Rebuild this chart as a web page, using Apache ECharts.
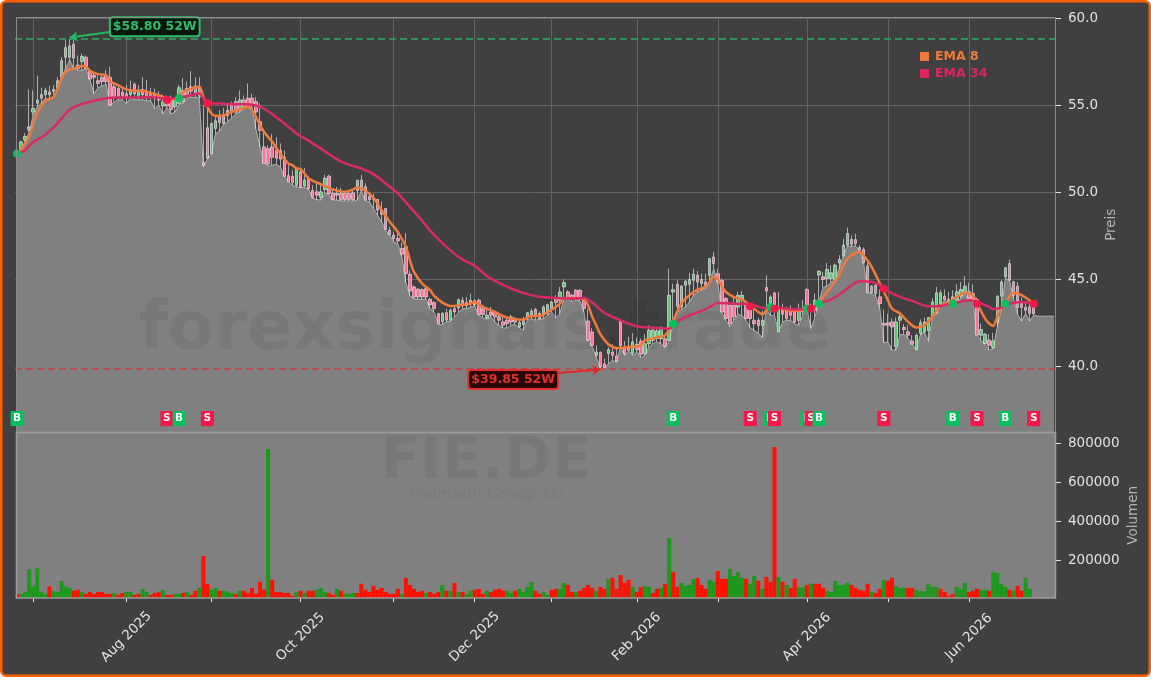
<!DOCTYPE html>
<html>
<head>
<meta charset="utf-8">
<title>FIE.DE</title>
<style>
html, body { margin: 0; padding: 0; background: #fff; }
#chart { width: 1151px; height: 677px; }
</style>
<script src="https://cdn.jsdelivr.net/npm/echarts@6/dist/echarts.min.js"></script>
</head>
<body>
<div id="chart"></div>
<script>
// daily bars
var opens = [52.2,52.45,53.0,53.6,54.6,55.1,55.4,55.6,55.75,55.8,56.0,56.6,57.75,57.75,58.5,57.3,57.5,57.75,56.95,56.7,56.4,56.6,56.7,56.6,56.05,55.95,55.75,55.65,55.6,56.2,55.4,55.9,55.75,55.65,55.55,55.55,54.95,55.4,55.3,54.9,55.1,55.85,55.95,56.05,56.1,55.5,51.7,53.7,52.2,53.65,54.4,54.4,54.7,55.0,55.2,54.7,55.3,55.4,55.4,55.2,54.05,52.6,52.5,52.6,52.4,52.4,52.0,50.95,50.9,50.4,
  51.17,50.35,50.8,50.1,50.02,49.7,50.15,50.92,49.93,49.93,49.93,49.93,49.93,49.96,50.1,50.69,50.31,49.77,49.7,49.58,49.0,49.06,47.82,47.53,47.34,46.76,46.86,45.29,44.56,44.43,44.4,44.46,43.85,43.66,43.03,42.55,43.08,42.65,43.31,43.35,43.79,43.66,43.79,43.77,43.79,43.31,42.78,43.12,43.08,42.84,42.55,42.65,42.84,42.74,42.26,42.4,42.78,42.93,43.27,43.03,42.93,43.03,43.31,43.93,43.79,44.56,44.27,44.08,44.37,44.37,43.83,42.6,41.97,40.63,40.8,40.15,40.73,40.82,40.6,42.64,
  41.07,41.15,40.77,41.26,41.44,40.73,41.3,41.49,41.6,41.59,41.59,41.49,44.27,44.71,43.41,44.66,44.71,44.94,45.23,44.98,44.85,45.23,46.28,45.32,44.94,43.89,43.5,43.6,43.4,43.83,43.64,43.31,42.64,42.64,42.35,44.52,43.6,44.21,41.97,43.31,43.31,43.31,43.1,42.64,43.3,44.41,43.41,43.22,45.24,45.14,45.04,45.04,44.99,45.94,46.33,46.96,47.28,47.28,46.82,46.71,45.75,44.22,44.66,43.99,42.46,42.5,42.55,41.15,42.65,42.23,41.98,41.46,40.96,41.88,41.98,42.04,42.84,43.03,43.6,44.03,43.84,43.76,43.8,44.03,44.18,44.28,44.18,43.84,41.79,41.31,41.5,41.08,42.55,44.03,45.14,45.9,44.85,44.6,43.61,43.38,43.41,43.41];
var closes = [52.4,52.9,53.2,53.75,54.8,55.3,55.6,55.85,55.6,55.9,56.4,57.55,58.3,58.4,57.7,57.1,57.8,57.1,56.5,56.6,56.25,56.35,56.35,55.0,55.5,55.5,55.5,55.4,55.85,55.65,55.85,55.6,55.4,55.45,55.4,55.3,55.2,54.95,54.75,55.3,56.0,55.2,55.55,55.8,55.7,56.0,51.55,51.95,53.95,54.1,54.0,53.95,54.4,54.6,54.6,55.3,54.9,54.9,55.0,54.6,53.55,51.65,51.65,52.0,51.95,51.9,50.9,50.6,50.55,51.35,
  50.27,50.7,50.2,49.7,49.83,50.02,50.8,49.93,49.58,49.83,49.58,49.58,49.58,49.58,50.69,50.1,49.54,49.58,49.58,48.97,48.74,47.86,47.57,47.34,47.2,46.44,45.33,44.33,43.98,43.98,43.98,43.98,43.54,43.31,42.45,43.03,42.65,43.22,43.12,43.83,43.47,43.47,43.6,43.54,42.97,42.97,42.93,42.93,42.84,42.65,42.36,42.45,42.55,42.55,42.51,42.65,43.08,43.16,42.89,42.74,43.41,43.54,43.7,43.66,44.27,44.81,43.93,43.89,43.89,43.93,43.32,41.49,41.2,40.82,39.96,39.92,40.96,40.63,40.3,41.2,
  40.73,40.92,41.4,40.96,40.69,41.3,42.07,42.07,42.03,42.22,41.15,44.08,44.4,43.45,44.6,44.89,44.98,45.29,44.84,44.75,44.65,46.19,45.9,44.85,43.12,42.74,42.45,42.84,44.08,44.08,42.74,42.74,42.45,42.35,42.64,44.33,43.98,43.12,43.31,42.99,42.74,42.93,42.55,43.31,43.13,43.41,43.22,43.8,45.46,44.99,45.56,45.37,45.81,46.13,46.96,47.63,47.02,47.05,46.67,45.94,44.22,44.6,44.18,43.6,42.36,42.36,42.26,42.55,42.84,42.11,41.79,41.27,41.79,42.5,42.55,42.8,43.7,44.22,44.22,43.84,43.64,43.99,44.28,44.41,44.6,43.9,43.84,41.79,42.11,41.84,41.21,41.46,44.03,44.85,45.67,44.95,44.08,43.38,43.38,43.22,43.03,43.03];
var highs = [52.5,52.95,53.4,55.9,55.85,56.7,56.0,56.0,56.1,56.15,56.6,57.75,58.75,58.8,58.75,57.85,57.95,57.85,57.1,56.9,56.7,56.65,57.0,57.2,56.25,56.05,56.0,56.15,56.4,56.3,56.15,56.6,56.45,56.0,55.95,55.8,55.6,55.55,55.55,55.45,56.15,56.55,56.35,56.95,56.6,56.6,55.0,55.0,54.0,54.4,54.7,54.85,55.0,55.2,55.45,55.85,55.55,56.25,55.65,55.45,55.1,53.65,52.7,53.35,53.15,52.8,52.4,51.55,51.25,51.45,
  51.36,51.4,50.9,50.4,50.5,50.5,51.0,51.0,50.2,50.3,50.25,50.0,50.1,50.1,50.69,51.0,50.5,50.0,49.9,49.6,49.45,49.06,48.0,47.7,47.6,47.1,47.66,45.5,44.65,44.5,44.46,44.55,43.93,43.74,43.08,43.12,43.31,43.31,43.47,43.89,43.98,43.98,44.17,43.85,43.89,43.54,43.41,43.41,43.22,42.97,42.84,42.84,42.97,42.84,42.7,42.84,43.12,43.31,43.35,43.16,43.5,43.6,43.74,44.08,44.56,44.99,44.37,44.17,44.43,44.43,43.9,43.3,42.2,41.2,40.85,40.45,41.1,41.26,41.1,42.68,
  41.45,41.7,41.9,41.65,41.6,41.84,42.35,42.2,42.2,42.3,41.68,45.61,44.75,44.94,44.66,44.98,45.36,45.61,45.48,45.32,45.32,46.19,46.57,45.61,45.04,43.98,43.7,44.02,44.27,44.33,43.7,43.64,43.5,42.8,43.2,45.23,44.08,44.27,44.27,43.6,43.41,43.5,43.31,43.6,43.8,44.47,43.6,44.18,45.52,45.43,45.94,45.81,45.9,46.38,47.34,47.97,47.53,47.63,46.96,46.82,45.94,44.66,44.72,44.41,43.26,43.03,42.74,42.8,43.03,42.42,42.36,41.79,41.88,42.69,42.8,42.84,43.9,44.56,44.37,44.41,44.28,44.37,44.72,44.85,45.18,44.8,44.72,43.95,42.46,41.92,41.84,41.92,44.08,44.95,45.67,46.13,44.91,44.85,43.95,43.76,43.64,43.51];
// lows also carry the grey area; it stays flat past the last bar
var lows = [52.2,52.4,52.9,53.45,54.4,54.9,55.1,55.4,55.3,55.4,55.9,56.6,57.1,57.6,57.1,57.0,57.0,57.1,56.45,55.65,56.0,56.1,56.2,54.95,55.2,55.3,55.3,55.1,55.4,55.3,55.3,55.3,55.25,55.25,54.8,55.0,54.5,54.85,54.5,54.6,55.05,55.1,55.45,55.45,55.45,55.4,51.45,51.9,52.2,53.35,53.5,53.9,54.05,54.25,54.5,54.6,54.8,54.9,54.9,53.6,52.6,51.65,51.55,51.55,51.6,51.45,50.9,50.6,50.4,50.3,
  50.27,50.27,50.15,49.64,49.58,49.54,49.93,49.89,49.54,49.54,49.5,49.5,49.5,49.5,49.54,50.08,49.5,49.45,49.06,48.68,48.3,47.82,47.53,47.15,47.05,46.3,44.79,44.05,43.89,43.85,43.85,43.85,43.31,43.12,42.4,42.4,42.55,42.6,42.83,43.08,43.31,43.31,43.41,43.47,42.93,42.78,42.7,42.83,42.55,42.36,42.2,42.2,42.36,42.4,42.2,42.07,42.65,42.74,42.65,42.7,42.74,42.93,43.12,42.78,43.03,43.85,43.85,43.7,43.8,43.75,43.1,41.45,41.15,40.54,39.86,39.86,40.15,40.34,40.25,41.11,
  40.63,40.88,40.63,40.82,40.5,40.63,41.11,41.3,41.4,41.3,41.07,41.45,42.45,43.1,43.26,43.4,43.7,44.08,44.27,44.37,44.46,44.85,45.6,44.8,43.1,42.64,42.26,42.64,43.0,42.9,42.64,42.22,42.07,41.91,41.65,43.31,42.93,42.93,41.97,42.55,42.64,42.64,42.45,42.35,42.94,43.32,42.17,42.84,43.7,44.53,44.6,44.85,44.95,45.62,46.33,46.9,46.9,46.9,46.67,45.94,44.22,44.18,44.03,43.32,41.35,41.4,40.93,40.93,41.8,41.84,41.6,41.27,40.93,41.8,41.98,41.44,42.8,43.03,43.5,43.8,43.6,43.7,43.64,43.9,44.18,43.8,43.76,41.79,41.5,41.27,40.93,41.02,42.27,43.22,45.04,44.95,43.9,43.0,42.59,43.03,42.59,42.94,
  42.88,42.88,42.88,42.88,42.88];
var volumes = [28000,28000,38000,155000,66000,160000,38000,28000,66000,42000,38000,95000,66000,59000,44000,49000,38000,28000,38000,28000,38000,38000,28000,28000,33000,23000,33000,38000,38000,23000,28000,54000,38000,23000,33000,38000,49000,23000,23000,28000,28000,33000,38000,23000,44000,59000,223000,80000,49000,59000,44000,44000,40000,33000,28000,44000,44000,33000,59000,28000,90000,49000,771000,100000,38000,38000,33000,33000,18000,38000,44000,33000,44000,44000,49000,59000,38000,33000,23000,54000,44000,28000,28000,33000,33000,80000,49000,38000,69000,49000,59000,38000,28000,28000,54000,
  28000,110000,74000,54000,38000,44000,33000,38000,28000,38000,74000,44000,44000,85000,38000,38000,28000,44000,49000,54000,28000,44000,38000,49000,54000,44000,44000,33000,44000,54000,38000,64000,90000,44000,28000,38000,23000,49000,54000,54000,85000,74000,38000,38000,44000,59000,74000,59000,44000,64000,54000,105000,110000,54000,125000,85000,100000,64000,38000,64000,69000,64000,33000,54000,59000,80000,315000,141000,64000,85000,69000,74000,105000,110000,74000,54000,100000,90000,146000,105000,105000,156000,120000,141000,110000,105000,80000,120000,95000,54000,115000,90000,782000,115000,
  90000,74000,59000,105000,62000,62000,74000,80000,80000,80000,59000,42000,38000,95000,74000,74000,85000,74000,59000,49000,44000,80000,38000,33000,54000,100000,95000,110000,69000,59000,59000,59000,59000,49000,42000,42000,80000,64000,64000,54000,38000,18000,28000,64000,54000,85000,38000,44000,54000,49000,49000,44000,141000,136000,80000,64000,49000,44000,69000,44000,110000,54000,12000];
// g or r per bar, ten to a group
var volumeSides = ('rgggggggrg ggggrrgrrr rrrrgrrggr rggrrrgrrg grgrrgrrgg rgggrgrrrr rrgrrrrrrg rgrrgggrrg rgggrrrrrr rrrrrgrrrr ' +
    'rgrrrgrgrg rggrrrgrrr rggrggggrr ggrrggrrgr rrrgrrgrrr rrgrrggrrg rgrrggggrr rggrrrgggg rggrgrrrgr grrggrgrrr ' +
    'ggggggrrrr rgrrgrrggg rrggggggrr rrgggrrrgg rggggrgrrg gr').replace(/ /g, '').split('');

// curve vertices as [bar index, price]
var ema8 = [[0,52.25],[1,52.45],[3,53.2],[4,53.94],[5,54.55],[6,54.94],[7,55.25],[9,55.47],[10,55.95],[11,56.53],[12,56.91],[13,57.06],[14,57.1],[16,57.24],[17,57.2],[18,56.97],[20,56.78],[22,56.72],[23,56.37],[25,56.14],[27,55.9],[29,55.82],[31,55.82],[33,55.7],[35,55.57],[37,55.38],[39,55.32],[40,55.57],[41,55.76],[43,55.95],[45,56.05],[46,55.47],[47,54.9],[48,54.52],[49,54.38],[51,54.42],[53,54.61],[55,54.75],[57,54.9],[58,54.71],[59,54.32],[60,53.85],[61,53.46],[63,52.89],[65,52.21],[67,51.64],[68,51.55],[69,51.36],[70,51.33],[72,50.79],[75,50.46],[78,50.16],[81,50.02],[83,50.16],[84,50.27],[86,50.08],[88,49.68],[90,48.97],[92,48.3],[94,47.72],[96,46.86],[97,46.09],[98,45.42],[100,44.75],[102,44.37],[103,44.04],[105,43.66],[107,43.47],[109,43.5],[112,43.6],[113,43.7],[115,43.41],[118,43.12],[120,42.89],[122,42.74],[125,42.68],[127,42.89],[129,42.89],[131,43.12],[133,43.41],[134,43.6],[135,43.89],[136,43.93],[140,43.85],[142,42.85],[143,42.35],[144,41.85],[145,41.53],[146,41.26],[148,41.05],[151,41.11],[153,41.15],[154,41.2],[155,41.49],[157,41.59],[159,41.72],[160,41.78],[161,42.16],[162,42.64],[164,43.6],[166,44.08],[168,44.4],[170,44.56],[171,44.85],[172,45.17],[173,44.98],[175,44.27],[177,43.98],[179,43.83],[181,43.5],[183,43.12],[184,42.99],[185,43.22],[186,43.41],[188,43.35],[192,43.18],[195,43.27],[197,43.45],[198,43.7],[200,44.28],[202,44.91],[203,45.23],[204,45.81],[205,46.19],[207,46.52],[208,46.58],[209,46.38],[211,45.71],[213,44.76],[214,44.28],[215,43.8],[216,43.32],[218,43.03],[220,42.55],[222,42.23],[224,42.36],[226,42.84],[228,43.51],[230,43.66],[232,43.99],[234,44.22],[236,44.09],[237,43.61],[239,42.74],[240,42.46],[241,42.32],[242,42.84],[243,43.32],[244,43.61],[246,44.22],[248,44.09],[251,43.61]];
var ema34 = [[0,52.22],[2,52.41],[4,52.89],[6,53.14],[9,53.71],[11,54.23],[13,54.75],[15,54.98],[18,55.19],[22,55.4],[25,55.44],[30,55.44],[33,55.47],[37,55.36],[40,55.42],[43,55.57],[45,55.67],[47,55.09],[50,55.09],[54,55.05],[57,55.05],[60,54.9],[62,54.65],[65,54.13],[67,53.75],[69,53.37],[72,52.95],[75,52.51],[78,52.03],[81,51.65],[85,51.36],[88,51.04],[91,50.5],[94,49.93],[97,49.16],[100,48.36],[103,47.53],[106,46.86],[110,46.13],[113,45.77],[116,45.19],[119,44.79],[122,44.47],[125,44.22],[129,43.99],[133,43.93],[137,43.9],[140,43.92],[142,43.66],[145,43.08],[149,42.64],[153,42.3],[157,42.22],[161,42.16],[162,42.45],[165,42.83],[169,43.18],[171,43.41],[173,43.64],[177,43.6],[181,43.56],[184,43.37],[187,43.37],[192,43.27],[196,43.32],[198,43.61],[201,43.84],[204,44.28],[206,44.66],[208,44.89],[211,44.85],[213,44.66],[215,44.32],[218,43.99],[221,43.76],[225,43.45],[228,43.47],[231,43.61],[235,43.8],[237,43.7],[240,43.41],[241,43.28],[243,43.38],[245,43.61],[248,43.7],[251,43.61]];

var signalIndex = [0,37,40,47,162,181,186,187,195,196,198,214,231,237,244,251];
var signalType = ['B','S','B','S','B','S','B','S','B','S','B','S','B','S','B','S'];
var signalPrice = [52.2,55.3,55.4,55.1,42.45,43.45,43.4,43.3,43.3,43.3,43.6,44.45,43.6,43.6,43.6,43.6];
var signalBoxPrice = 37;

var priceTicks = [40,45,50,55,60];
var volumeTicks = [200000,400000,600000,800000];
var tickIndexes = [4,27,48,70,93,113,132,153,173,195,215,235];
var tickLabels = ['','Aug 2025','','Oct 2025','','Dec 2025','','Feb 2026','','Apr 2026','','Jun 2026'];
var barCount = lows.length;

var high52 = 58.80, low52 = 39.85;

var BG = '#404040', ORANGE = '#f07a3c', PINK = '#d92a66';
var GREEN = '#08c05c', RED = '#f5174a';
var FONT = 'DejaVu Sans';

var categories = [];
for (var c = 0; c < barCount; c++) {
    var at = tickIndexes.indexOf(c);
    categories.push(at >= 0 ? tickLabels[at] : '');
}
function isTick(index) {
    return tickIndexes.indexOf(index) >= 0;
}

var candles = [];
for (var k = 0; k < opens.length; k++) {
    candles.push([opens[k], closes[k], lows[k], highs[k]]);
}
var volumeBars = volumes.map(function (v, i) {
    return { value: v, itemStyle: { color: volumeSides[i] === 'g' ? '#1e971e' : '#ff1000' } };
});
var dots = signalIndex.map(function (idx, i) {
    return { value: [idx, signalPrice[i]], itemStyle: { color: signalType[i] === 'B' ? GREEN : RED, opacity: 1 } };
});

// one series per box, so a later box also hides the letter of the one beneath it
var boxSeries = signalIndex.map(function (idx, i) {
    return {
        name: 'box' + i,
        type: 'scatter',
        z: 21 + i,
        xAxisIndex: 0,
        yAxisIndex: 0,
        symbol: 'rect',
        symbolSize: [13, 15],
        clip: false,
        itemStyle: { color: signalType[i] === 'B' ? GREEN : RED, opacity: 1 },
        data: [[idx, signalBoxPrice]],
        label: {
            show: true,
            position: 'inside',
            color: '#fff',
            fontFamily: FONT,
            fontWeight: 'bold',
            fontSize: 10.5,
            formatter: signalType[i]
        }
    };
});

function tag(coord, text, col, bg, offset) {
    return {
        coord: coord,
        symbol: 'circle',
        symbolSize: 0,
        label: {
            show: true,
            position: 'inside',
            offset: offset,
            formatter: text,
            color: col,
            fontFamily: FONT,
            fontWeight: 'bold',
            fontSize: 12.5,
            backgroundColor: bg,
            borderColor: col,
            borderWidth: 2,
            borderRadius: 2,
            padding: [2, 2, 2, 2]
        }
    };
}
function level(value, col) {
    return { yAxis: value, lineStyle: { color: col, type: [7, 4], width: 1.5 }, label: { show: false } };
}
function arrow(from, to, col) {
    return [
        { coord: from, symbol: 'none', lineStyle: { color: col, type: 'solid', width: 2 }, label: { show: false } },
        { coord: to, symbol: 'arrow', symbolSize: 8 }
    ];
}

var chart = echarts.init(document.getElementById('chart'), null, { renderer: 'canvas' });
chart.setOption({
    animation: false,
    textStyle: { fontFamily: FONT },
    grid: [
        { left: 15, top: 17, width: 1041, height: 415.5 },
        { left: 15, top: 432.5, width: 1041, height: 165.5 }
    ],
    legend: {
        left: 915,
        top: 45,
        orient: 'vertical',
        itemWidth: 9,
        itemHeight: 9,
        itemGap: 4,
        selectedMode: false,
        icon: 'rect',
        data: ['EMA 8', 'EMA 34'],
        textStyle: { color: 'inherit', fontFamily: FONT, fontWeight: 'bold', fontSize: 12.5, padding: [0, 0, 0, 1] }
    },
    xAxis: [{
        type: 'category',
        gridIndex: 0,
        data: categories,
        axisLine: { show: false },
        axisTick: { show: false },
        axisLabel: { show: false },
        splitLine: {
            show: true,
            alignWithLabel: true,
            interval: isTick,
            lineStyle: { color: '#626262', width: 1 }
        }
    }, {
        type: 'category',
        gridIndex: 1,
        data: categories,
        axisLine: { show: false },
        axisTick: {
            show: true,
            alignWithLabel: true,
            interval: isTick,
            length: 4,
            lineStyle: { color: '#e6e6e6', width: 1 }
        },
        axisLabel: {
            interval: function (index, value) { return value !== ''; },
            rotate: 45,
            align: 'center',
            verticalAlign: 'middle',
            margin: 39,
            color: '#e0e0e0',
            fontSize: 13.5,
            fontFamily: FONT
        },
        splitLine: { show: false }
    }],
    yAxis: [{
        type: 'value',
        gridIndex: 0,
        position: 'right',
        min: 36.2,
        max: 60.06,
        name: 'Preis',
        nameLocation: 'middle',
        nameGap: 48,
        nameMoveOverlap: false,
        nameRotate: 90,
        nameTextStyle: { color: '#b4b4b4', fontSize: 13.5, fontFamily: FONT },
        axisLine: { show: false },
        axisTick: { show: true, length: 5, customValues: priceTicks, lineStyle: { color: '#e6e6e6' } },
        axisLabel: {
            customValues: priceTicks,
            margin: 12,
            color: '#e0e0e0',
            fontSize: 13.5,
            fontFamily: FONT,
            formatter: function (v) { return v.toFixed(1); }
        },
        splitLine: { show: true, lineStyle: { color: '#626262', width: 1 } }
    }, {
        type: 'value',
        gridIndex: 1,
        position: 'right',
        min: 7000,
        max: 856000,
        name: 'Volumen',
        nameLocation: 'middle',
        nameGap: 70,
        nameMoveOverlap: false,
        nameRotate: 90,
        nameTextStyle: { color: '#b4b4b4', fontSize: 13.5, fontFamily: FONT },
        axisLine: { show: false },
        axisTick: { show: true, length: 5, customValues: volumeTicks, lineStyle: { color: '#e6e6e6' } },
        axisLabel: {
            customValues: volumeTicks,
            margin: 12,
            color: '#e0e0e0',
            fontSize: 13.5,
            fontFamily: FONT,
            formatter: function (v) { return String(v); }
        },
        splitLine: { show: false }
    }],
    graphic: [
        { type: 'rect', z: -10, silent: true, shape: { x: 1.25, y: 1.25, width: 1148.5, height: 674.5, r: 5 }, style: { fill: BG, stroke: '#ff5f00', lineWidth: 2.5 } },
        { type: 'rect', z: 0, silent: true, shape: { x: 16, y: 432, width: 1040, height: 166 }, style: { fill: '#808080' } },
        { type: 'rect', z: 20, silent: true, shape: { x: 16.5, y: 17.5, width: 1039, height: 415 }, style: { fill: 'none', stroke: '#8c8c8c', lineWidth: 1 } },
        { type: 'rect', z: 20, silent: true, shape: { x: 16.5, y: 432.5, width: 1039, height: 165.5 }, style: { fill: 'none', stroke: '#9c9c9c', lineWidth: 1.5 } },
        { type: 'text', z: 2, silent: true, style: { text: 'forexsignals.trade', x: 485, y: 332, textAlign: 'center', textVerticalAlign: 'middle', fontFamily: FONT, fontWeight: 'bold', fontSize: 67, fill: 'rgba(0,0,0,0.06)' } },
        { type: 'text', z: 2, silent: true, style: { text: 'FIE.DE', x: 486, y: 463, textAlign: 'center', textVerticalAlign: 'middle', fontFamily: FONT, fontWeight: 'bold', fontSize: 58, fill: 'rgba(0,0,0,0.06)' } },
        { type: 'text', z: 2, silent: true, style: { text: 'Fielmann Group AG', x: 487, y: 495, textAlign: 'center', textVerticalAlign: 'middle', fontFamily: FONT, fontSize: 16, fill: 'rgba(0,0,0,0.05)' } }
    ],
    series: [{
        name: 'area',
        type: 'line',
        z: 1,
        xAxisIndex: 0,
        yAxisIndex: 0,
        data: lows,
        symbol: 'none',
        lineStyle: { color: '#b0b0b0', width: 1 },
        areaStyle: { color: '#808080', opacity: 1 }
    }, {
        name: 'candles',
        type: 'candlestick',
        z: 3,
        xAxisIndex: 0,
        yAxisIndex: 0,
        barWidth: 3,
        data: candles,
        itemStyle: {
            color: '#5fc878',
            color0: '#ff7099',
            borderColor: 'rgba(235,235,235,0.8)',
            borderColor0: 'rgba(235,235,235,0.8)',
            borderWidth: 0.8
        }
    }, {
        name: 'EMA 8',
        type: 'line',
        z: 4,
        xAxisIndex: 0,
        yAxisIndex: 0,
        data: ema8,
        color: ORANGE,
        smooth: 0.3,
        symbol: 'none',
        lineStyle: { color: ORANGE, width: 2.5 }
    }, {
        name: 'EMA 34',
        type: 'line',
        z: 4,
        xAxisIndex: 0,
        yAxisIndex: 0,
        data: ema34,
        color: '#e0245e',
        smooth: 0.3,
        symbol: 'none',
        lineStyle: { color: PINK, width: 2.5 },
        markLine: {
            silent: true,
            animation: false,
            symbol: 'none',
            data: [
                level(high52, '#2ea866'),
                level(low52, '#c04040'),
                arrow([23, 59.2], [13, 58.88], '#22b864'),
                arrow([133, 39.6], [144, 39.82], '#e02a2a')
            ]
        },
        markPoint: {
            silent: true,
            animation: false,
            data: [
                tag([34, 59.5], '$58.80 52W', '#2ebd6b', '#06180e', [0, 0]),
                tag([122, 39.25], '$39.85 52W', '#e03030', '#2a0808', [2, 0])
            ]
        }
    }, {
        name: 'dots',
        type: 'scatter',
        z: 5,
        xAxisIndex: 0,
        yAxisIndex: 0,
        symbolSize: 8,
        data: dots
    }, {
        name: 'volume',
        type: 'bar',
        xAxisIndex: 1,
        yAxisIndex: 1,
        barWidth: '100%',
        data: volumeBars
    }].concat(boxSeries)
});
</script>
</body>
</html>
